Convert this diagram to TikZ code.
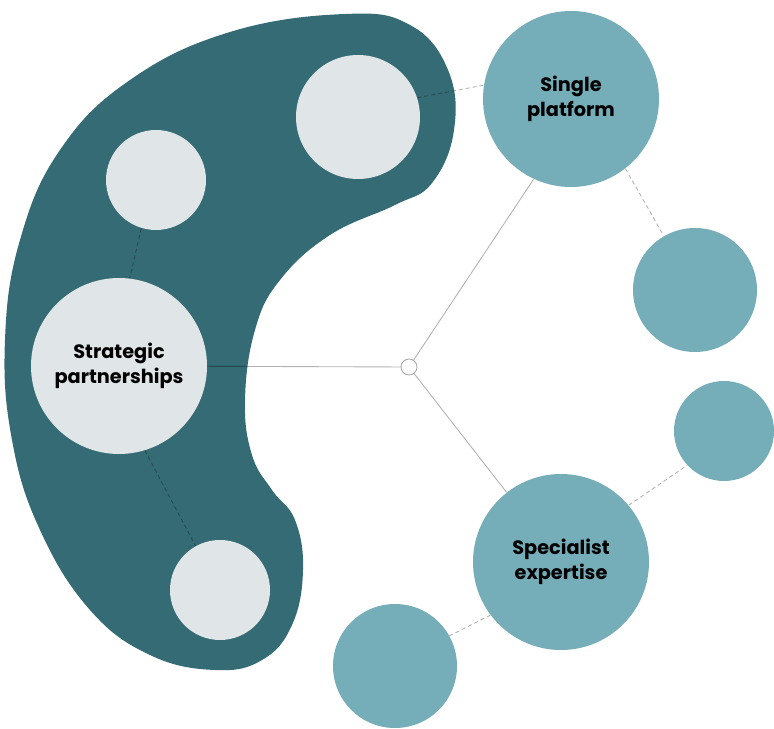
\documentclass[tikz,border=0pt]{standalone}
\usepackage{fontspec}
\setmainfont{Poppins}
\pgfdeclarelayer{blob}
\pgfdeclarelayer{background}
\pgfsetlayers{blob,background,main}
\begin{document}
\begin{tikzpicture}[x=0.02cm,y=-0.02cm,
  lightc/.style={circle,fill=lgrey,draw=none,inner sep=0pt,align=center,font=\fontsize{11}{14}\selectfont\bfseries},
  tealc/.style={circle,fill=tealc,draw=none,inner sep=0pt,align=center,font=\fontsize{11}{14}\selectfont\bfseries},
  solidcon/.style={draw=black,draw opacity=0.3,line width=0.5pt},
  dashcon/.style={draw=black,draw opacity=0.3,line width=0.5pt,dash pattern=on 2.3pt off 1.7pt},
  hub/.style={circle,draw=black!35,fill=white,line width=0.5pt,minimum size=16*0.02cm,inner sep=0pt}]
\definecolor{blobc}{HTML}{356B74}
\definecolor{lgrey}{HTML}{E0E5E8}
\definecolor{tealc}{HTML}{75ADB8}
\useasboundingbox (0,0) rectangle (774,729);
% blob
\begin{pgfonlayer}{blob}
\fill[blobc] plot[smooth cycle, tension=0.7] coordinates {
(345,14) (410,25) (448,70) (454,130) (432,183) (395,205) (330,235) (280,280) (255,330) (245,400) (252,455) (272,490) (295,520) (303,570) (292,625) (262,660) (215,670) (150,655) (90,610) (40,530) (12,440) (5,340) (20,240) (60,150) (130,80) (230,32)};
\end{pgfonlayer}
% nodes
\node[lightc,minimum size=124*0.02cm] (a1) at (358,117) {};
\node[lightc,minimum size=100*0.02cm] (a2) at (156,180) {};
\node[lightc,minimum size=176*0.02cm] (sp) at (119,366) {Strategic\\partnerships};
\node[lightc,minimum size=100*0.02cm] (a3) at (220,590) {};
\node[tealc,minimum size=176*0.02cm] (sg) at (571,99) {Single\\platform};
\node[tealc,minimum size=124*0.02cm] (b1) at (695,290) {};
\node[tealc,minimum size=100*0.02cm] (b2) at (724,431) {};
\node[tealc,minimum size=176*0.02cm] (se) at (561,562) {Specialist\\expertise};
\node[tealc,minimum size=124*0.02cm] (b3) at (395,666) {};
\node[hub] (hub) at (409,367) {};
% connectors
\begin{pgfonlayer}{background}
\draw[solidcon] (sp) -- (hub);
\draw[solidcon] (hub) -- (sg.245);
\draw[solidcon] (hub) -- (se.128);
\draw[dashcon] (a1.18) -- (sg.171);
\draw[dashcon] (a2.253) -- (sp.83);
\draw[dashcon] (sp.287) -- (a3.119);
\draw[dashcon] (sg.308) -- (b1.120);
\draw[dashcon] (se.40) -- (b2.223);
\draw[dashcon] (se.217) -- (b3.29);
\end{pgfonlayer}
\end{tikzpicture}
\end{document}
